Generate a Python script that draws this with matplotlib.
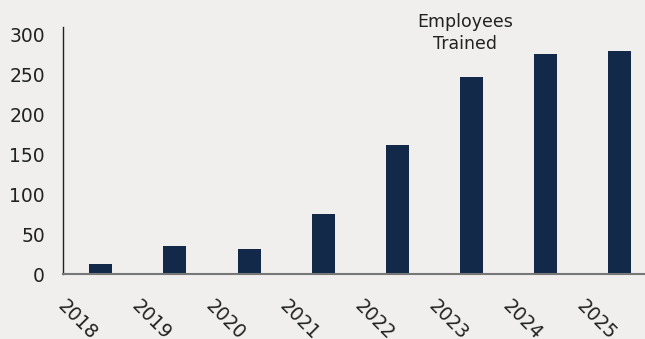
import matplotlib
matplotlib.use("Agg")
import matplotlib.pyplot as plt

years = ["2018", "2019", "2020", "2021", "2022", "2023", "2024", "2025"]
employees_trained = [12, 35, 31, 75, 161, 246, 275, 279]

bg = "#f0efed"
bar_color = "#12294a"

fig = plt.figure(figsize=(6.45, 3.39), dpi=100, facecolor=bg)
ax = fig.add_axes([63 / 645, 1 - 274 / 339, 1 - 63 / 645, (274 - 27) / 339])
ax.set_facecolor(bg)

x = range(len(years))
ax.bar(x, employees_trained, width=0.31, color=bar_color, zorder=2)

ax.set_xlim(-0.51, 7.34)
ax.set_ylim(0, 309)
ax.set_yticks([0, 50, 100, 150, 200, 250, 300])
ax.set_xticks(list(x))
ax.set_xticklabels(years, rotation=-45, ha="right")
ax.tick_params(axis="both", length=0, labelsize=13.5, colors="#222222")
ax.tick_params(axis="x", pad=16)
ax.tick_params(axis="y", pad=13)

for side in ["top", "right"]:
    ax.spines[side].set_visible(False)
ax.spines["left"].set_color("#222222")
ax.spines["left"].set_linewidth(1)
ax.spines["bottom"].set_color("#777777")
ax.spines["bottom"].set_linewidth(1.5)

fig.text(465 / 645, 1 - 33 / 339, "Employees\nTrained", ha="center", va="center",
         fontsize=12.5, color="#222222", linespacing=1.25)

fig.savefig("out.png", dpi=100, facecolor=bg)
